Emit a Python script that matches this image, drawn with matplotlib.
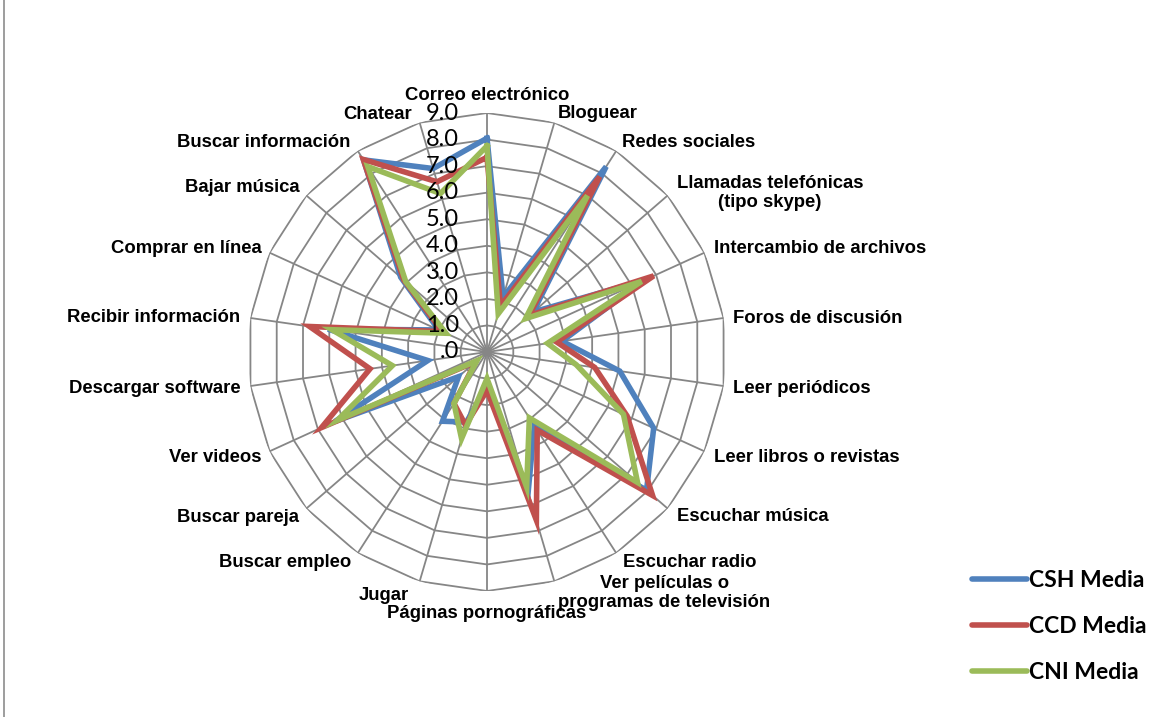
import numpy as np
import matplotlib.pyplot as plt
from matplotlib.lines import Line2D

# categorías del radar, en el orden de las agujas del reloj desde arriba
categorias = ["Correo electrónico", "Bloguear", "Redes sociales",
              "Llamadas telefónicas\n(tipo skype)", "Intercambio de archivos",
              "Foros de discusión", "Leer periódicos", "Leer libros o revistas",
              "Escuchar música", "Escuchar radio",
              "Ver películas o\nprogramas de televisión", "Páginas pornográficas",
              "Jugar", "Buscar empleo", "Buscar pareja", "Ver videos",
              "Descargar software", "Recibir información", "Comprar en línea",
              "Bajar música", "Buscar información", "Chatear"]

csh_media = [8.05, 2.15, 8.3, 2.3, 6.5, 2.85, 5.05, 6.9, 7.95, 3.3, 5.5, 1.3,
             2.75, 3.1, 1.42, 6.3, 2.25, 6.05, 2.0, 4.3, 8.6, 7.2]
ccd_media = [7.33, 1.8, 7.85, 2.1, 6.9, 2.65, 4.1, 5.8, 8.25, 3.5, 6.6, 1.45,
             2.87, 2.3, 0.55, 6.85, 4.45, 6.75, 1.85, 4.15, 8.62, 6.68]
cni_media = [7.76, 1.5, 7.0, 1.92, 6.4, 2.3, 3.4, 5.65, 7.5, 2.95, 5.3, 1.0,
             3.4, 2.3, 0.5, 6.2, 3.6, 5.9, 1.7, 4.05, 8.3, 6.22]

nombres = ["CSH Media", "CCD Media", "CNI Media"]
colores = ["#4F81BD", "#C0504D", "#9BBB59"]

niveles = np.arange(0, 10)
etiquetas_nivel = [".0"] + ["%d.0" % n for n in niveles[1:]]

# desplazamiento (px) y alineación de cada etiqueta respecto al vértice exterior
pos_etiquetas = [(0, 17, "center"), (3, 9, "left"), (6, 8, "left"),
                 (9, 2.5, "left"), (10, 4, "left"), (9, -1, "left"),
                 (9, -2, "left"), (10, -6, "left"), (9, -8, "left"),
                 (7, -9, "left"), (4, -11.5, "left"), (0, -23, "center"),
                 (-11, -14, "right"), (-7, -9, "right"), (-7, -9, "right"),
                 (-8, -6, "right"), (-10, -2, "right"), (-10, 0, "right"),
                 (-8, 4, "right"), (-7, 8, "right"), (-7, 8, "right"),
                 (-8, 8, "right")]


def cerrar(valores):
    return list(valores) + [valores[0]]


def main():
    n = len(categorias)
    angulos = np.linspace(0, 2 * np.pi, n, endpoint=False)
    ang_c = cerrar(angulos)

    fig = plt.figure(figsize=(11.7, 7.17), dpi=100)
    r_px = 239
    cx, cy = 487, 352
    ax = fig.add_axes([(cx - r_px) / 1170, (717 - cy - r_px) / 717,
                       2 * r_px / 1170, 2 * r_px / 717], projection="polar")
    ax.set_theta_zero_location("N")
    ax.set_theta_direction(-1)
    ax.set_ylim(0, niveles[-1])
    ax.axis("off")

    gris = "#868686"
    # telaraña poligonal
    for nv in niveles[1:]:
        ax.plot(ang_c, [nv] * (n + 1), color=gris, lw=1.3, zorder=1)
    for a in angulos:
        ax.plot([a, a], [0, niveles[-1]], color=gris, lw=1.3, zorder=1)

    for datos, nombre, color in zip([csh_media, ccd_media, cni_media], nombres, colores):
        ax.plot(ang_c, cerrar(datos), color=color, lw=4.0, label=nombre,
                solid_joinstyle="miter", zorder=3)

    for nv, etq in zip(niveles, etiquetas_nivel):
        ax.annotate(etq, (0, nv), xytext=(-28, 0), textcoords="offset pixels",
                    ha="right", va="center", fontsize=17, family="Lato",
                    annotation_clip=False, zorder=4)

    for a, cat, (dx, dy, ha) in zip(angulos, categorias, pos_etiquetas):
        ax.annotate(cat, (a, niveles[-1]), xytext=(dx, dy), textcoords="offset pixels",
                    ha=ha, va="center", multialignment="center",
                    fontsize=13.3, fontweight="bold", family="Liberation Sans",
                    annotation_clip=False, zorder=4)

    manejadores = [Line2D([0], [0], color=c, lw=4.0, solid_capstyle="round") for c in colores]
    fig.legend(manejadores, nombres, loc="upper left",
               bbox_to_anchor=(972 / 1170, 1 - 570 / 717), frameon=False,
               borderpad=0, borderaxespad=0, handlelength=2.4, handletextpad=0.1,
               labelspacing=1.1, prop={"family": "Lato", "weight": "bold", "size": 16.5})

    # borde izquierdo del área del gráfico
    fig.add_artist(Line2D([0.0035, 0.0035], [0, 1], transform=fig.transFigure,
                          color="#8c8c8c", lw=1.2))

    fig.savefig("out.png", dpi=100)


if __name__ == "__main__":
    main()
